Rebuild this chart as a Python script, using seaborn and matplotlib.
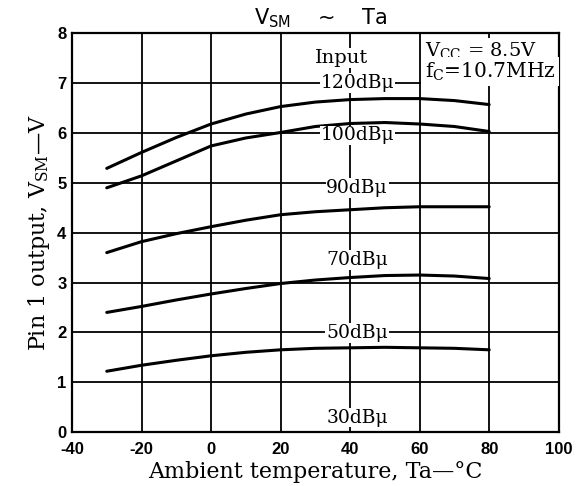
import matplotlib
matplotlib.use("Agg")
import matplotlib.pyplot as plt
import seaborn as sns
import pandas as pd

temps = [-30, -20, -10, 0, 10, 20, 30, 40, 50, 60, 70, 80]
v_120 = [5.29, 5.61, 5.91, 6.18, 6.38, 6.53, 6.62, 6.67, 6.69, 6.69, 6.65, 6.57]
v_100 = [4.90, 5.14, 5.44, 5.74, 5.90, 6.01, 6.13, 6.19, 6.21, 6.18, 6.13, 6.03]
v_90 = [3.60, 3.82, 3.98, 4.12, 4.25, 4.36, 4.42, 4.46, 4.50, 4.52, 4.52, 4.52]
v_70 = [2.40, 2.52, 2.65, 2.77, 2.88, 2.98, 3.05, 3.10, 3.14, 3.15, 3.13, 3.08]
v_50 = [1.22, 1.34, 1.44, 1.53, 1.60, 1.65, 1.68, 1.69, 1.70, 1.69, 1.68, 1.65]

series = {"120dB": v_120, "100dB": v_100, "90dB": v_90, "70dB": v_70, "50dB": v_50}
x_ticks = [-40, -20, 0, 20, 40, 60, 80, 100]
y_ticks = [0, 1, 2, 3, 4, 5, 6, 7, 8]
curve_labels = ["120dB\u03bc", "100dB\u03bc", "90dB\u03bc", "70dB\u03bc", "50dB\u03bc", "30dB\u03bc"]
label_y = [7.0, 5.95, 4.9, 3.45, 1.99, 0.29]

rows = []
for name, vals in series.items():
    for t, v in zip(temps, vals):
        rows.append({"Ta": t, "V": v, "input": name})
df = pd.DataFrame(rows)

sns.set_theme(style="white")
plt.rcParams["font.family"] = ["DejaVu Serif"]
plt.rcParams["mathtext.fontset"] = "dejavuserif"
plt.rcParams["axes.unicode_minus"] = False

fig = plt.figure(figsize=(5.76, 4.86), dpi=100)
ax = fig.add_axes([0.125, 0.111, 0.845, 0.8205])

sns.lineplot(data=df, x="Ta", y="V", hue="input", units="input", estimator=None,
             palette=["black"] * len(series), legend=False, linewidth=2.2, ax=ax, sort=False)

ax.set_xlim(-40, 100)
ax.set_ylim(0, 8)
ax.set_xticks(x_ticks)
ax.set_yticks(y_ticks)
ax.grid(True, color="black", linewidth=1.3)
ax.set_axisbelow(True)
for s in ax.spines.values():
    s.set_color("black")
    s.set_linewidth(1.6)
ax.tick_params(axis="x", length=0, pad=7)
ax.tick_params(axis="y", length=0, pad=4)
for lab in ax.get_xticklabels() + ax.get_yticklabels():
    lab.set_family("Liberation Sans")
    lab.set_fontweight("bold")
    lab.set_fontsize(12)
    lab.set_color("black")

ax.set_xlabel("Ambient temperature, Ta\u2014\u00b0C", fontsize=16, color="black", labelpad=3)
ax.set_ylabel("Pin 1 output, V$_{\\rm SM}$\u2014V", fontsize=16, color="black", labelpad=4)

fig.text(0.556, 0.962, "V$_{\\mathsf{SM}}$    ~    Ta", ha="center", va="center", fontsize=15,
         family="DejaVu Sans", color="black")

bbox = dict(facecolor="white", edgecolor="none", pad=0.5)
ax.text(37.5, 7.5, "Input", ha="center", va="center", fontsize=14, color="black", bbox=bbox)
for lbl, yy in zip(curve_labels, label_y):
    ax.text(42.0, yy, lbl, ha="center", va="center", fontsize=13.5, color="black", bbox=bbox)

ax.text(61.5, 7.66, "V$_{\\rm CC}$ = 8.5V", ha="left", va="center", fontsize=14, color="black",
        bbox=dict(facecolor="white", edgecolor="none", pad=1.5))
ax.text(61.5, 7.23, "f$_{\\rm C}$=10.7MHz", ha="left", va="center", fontsize=14.5, color="black",
        bbox=dict(facecolor="white", edgecolor="none", pad=2.5))

fig.savefig("out.png", dpi=100)
